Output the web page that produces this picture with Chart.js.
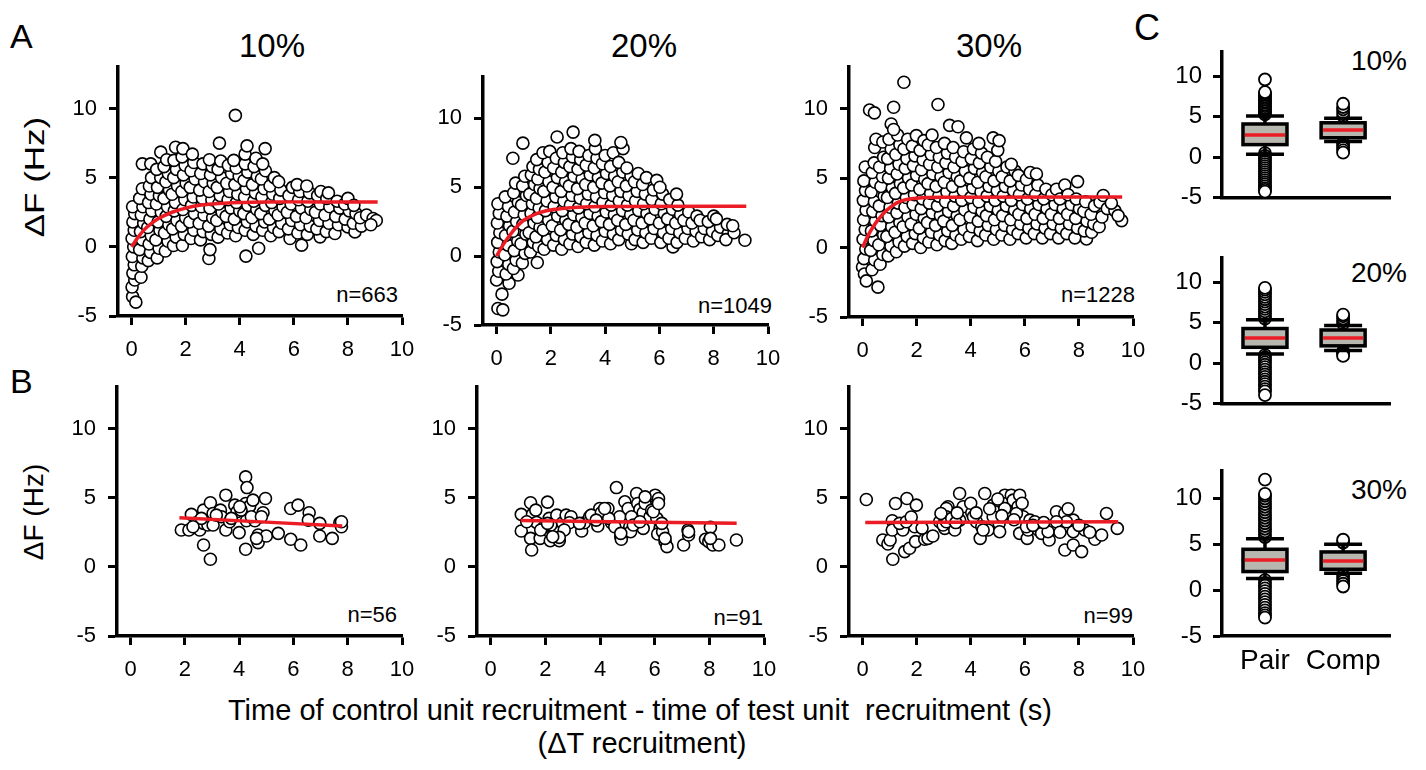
<!DOCTYPE html>
<html>
<head>
<meta charset="utf-8">
<title>Recruitment timing and ΔF</title>
<script src="https://cdn.jsdelivr.net/npm/chart.js@4.4.0/dist/chart.umd.min.js"></script>
<style>
  body { margin: 0; width: 1426px; height: 770px; position: relative; overflow: hidden; background: #fff;
         font-family: 'Liberation Sans', Arial, sans-serif; color: #000; }
  .lbl { position: absolute; line-height: 1; white-space: nowrap; }
  .ctr { transform: translateX(-50%); }
  .ylab { position: absolute; line-height: 1; white-space: nowrap; font-size: 28px; }
</style>
</head>
<body>
<div class="lbl" style="left:10px;top:19px;font-size:34px">A</div>
<div class="lbl" style="left:10px;top:364px;font-size:34px">B</div>
<div class="lbl" style="left:1134px;top:10px;font-size:36px">C</div>

<div class="lbl ctr" style="left:272px;top:29px;font-size:33px">10%</div>
<div class="lbl ctr" style="left:644px;top:29px;font-size:33px">20%</div>
<div class="lbl ctr" style="left:989px;top:29px;font-size:33px">30%</div>

<div class="ylab" style="left:35px;top:177px;transform:translate(-50%,-50%) rotate(-90deg) scaleX(1.25)">ΔF (Hz)</div>
<div class="ylab" style="left:34px;top:512px;transform:translate(-50%,-50%) rotate(-90deg)">ΔF (Hz)</div>

<div class="lbl" style="right:1028px;top:284px;font-size:22px">n=663</div>
<div class="lbl" style="right:654px;top:295px;font-size:22px">n=1049</div>
<div class="lbl" style="right:291px;top:284px;font-size:22px">n=1228</div>
<div class="lbl" style="right:1029px;top:604px;font-size:22px">n=56</div>
<div class="lbl" style="right:663px;top:607px;font-size:22px">n=91</div>
<div class="lbl" style="right:293px;top:605px;font-size:22px">n=99</div>

<div class="lbl" style="right:19px;top:47px;font-size:28px">10%</div>
<div class="lbl" style="right:19px;top:259px;font-size:28px">20%</div>
<div class="lbl" style="right:19px;top:476px;font-size:28px">30%</div>

<div class="lbl ctr" style="left:640px;top:696px;font-size:29px">Time of control unit recruitment - time of test unit&nbsp; recruitment (s)</div>
<div class="lbl ctr" style="left:642px;top:729px;font-size:29px">(ΔT recruitment)</div>

<script>
// axis ticks
const xTicks = [0, 2, 4, 6, 8, 10];
const yTicks = [-5, 0, 5, 10];
const groups = ['Pair', 'Comp'];

// A: all pairs, [ΔT, ΔF]
const pairs10 = [
  [0.04,-3.6],[0.16,-4.0],[0.02,-2.9],[0.12,-2.4],[0.05,-1.9],[0.1,-1.3],[0.03,-0.7],[0.08,0.0],[0.02,0.6],[0.1,1.2],[0.05,1.8],[0.12,2.4],[0.04,2.9],
  [0.35,-2.2],[0.38,-1.4],[0.42,-0.8],[0.3,-0.2],[0.4,0.5],[0.33,1.1],[0.45,1.7],[0.36,2.3],[0.42,2.9],[0.3,3.5],[0.4,4.2],[0.4,6.0],
  [0.62,-1.0],[0.7,-0.4],[0.65,0.2],[0.73,0.8],[0.6,1.4],[0.68,2.0],[0.75,2.6],[0.63,3.2],[0.72,3.8],[0.66,4.4],[0.74,5.0],[0.71,6.0],
  [0.95,-0.8],[1.02,-0.1],[0.9,0.5],[1.05,1.2],[0.98,1.8],[1.1,2.5],[0.92,3.1],[1.03,3.7],[0.96,4.3],[1.08,5.0],[0.93,5.6],[1.08,6.85],
  [1.25,-0.3],[1.35,0.4],[1.22,1.0],[1.38,1.6],[1.28,2.2],[1.33,2.9],[1.2,3.5],[1.4,4.1],[1.27,4.7],[1.36,5.3],[1.2,5.8],[1.3,6.3],
  [1.55,0.1],[1.65,0.7],[1.52,1.3],[1.68,1.9],[1.58,2.6],[1.62,3.2],[1.5,3.8],[1.7,4.4],[1.56,5.0],[1.66,5.6],[1.57,6.25],[1.63,7.2],
  [1.88,0.1],[1.95,0.9],[1.85,1.5],[2.0,2.1],[1.9,2.7],[1.97,3.4],[1.86,4.0],[2.02,4.6],[1.92,5.2],[1.98,5.9],[1.87,6.5],[1.9,7.1],
  [2.2,0.6],[2.3,1.2],[2.15,1.8],[2.33,2.4],[2.22,3.0],[2.28,3.6],[2.17,4.3],[2.35,4.9],[2.2,5.5],[2.3,6.1],[2.25,6.7],
  [2.55,0.5],[2.65,1.1],[2.5,1.7],[2.68,2.3],[2.58,2.9],[2.62,3.5],[2.52,4.1],[2.7,4.7],[2.56,5.3],[2.64,6.0],
  [2.86,-0.84],[2.9,-0.2],[2.95,0.9],[2.85,1.5],[3.0,2.1],[2.9,2.8],[2.97,3.4],[2.87,4.0],[3.02,4.6],[2.92,5.2],[2.98,5.8],[2.88,6.3],
  [3.2,0.7],[3.3,1.3],[3.15,1.9],[3.35,2.5],[3.22,3.1],[3.28,3.7],[3.17,4.3],[3.33,5.0],[3.2,5.6],[3.3,6.2],[3.25,7.5],
  [3.55,1.0],[3.65,1.6],[3.5,2.2],[3.68,2.8],[3.57,3.4],[3.62,4.0],[3.52,4.6],[3.7,5.3],[3.58,5.9],
  [3.85,0.8],[3.95,1.4],[3.8,2.0],[4.0,2.6],[3.88,3.2],[3.93,3.8],[3.82,4.5],[3.98,5.1],[3.87,5.7],[3.78,6.25],[3.84,9.5],
  [4.23,-0.67],[4.2,1.2],[4.28,1.8],[4.15,2.4],[4.3,3.0],[4.18,3.6],[4.25,4.2],[4.16,4.8],[4.3,5.4],[4.2,6.0],[4.2,6.7],[4.27,7.3],
  [4.5,0.9],[4.6,1.5],[4.45,2.1],[4.63,2.7],[4.52,3.3],[4.58,3.9],[4.47,4.5],[4.65,5.1],[4.53,5.8],[4.6,6.4],
  [4.7,-0.1],[4.85,1.2],[4.92,1.8],[4.78,2.4],[4.95,3.0],[4.82,3.6],[4.9,4.2],[4.8,4.9],[4.95,5.5],[4.85,6.0],[4.94,7.1],
  [5.15,0.8],[5.25,1.4],[5.1,2.0],[5.3,2.6],[5.18,3.2],[5.22,3.8],[5.12,4.4],[5.28,5.0],
  [5.45,1.1],[5.55,1.7],[5.42,2.3],[5.6,2.9],[5.48,3.5],[5.52,4.1],[5.44,4.7],
  [5.86,0.6],[5.8,1.3],[5.92,1.9],[5.76,2.5],[5.9,3.1],[5.82,3.7],[5.95,4.3],
  [6.29,0.12],[6.15,1.0],[6.25,1.6],[6.1,2.2],[6.28,2.8],[6.18,3.4],[6.22,4.0],[6.12,4.5],
  [6.5,0.9],[6.6,1.5],[6.45,2.1],[6.63,2.7],[6.52,3.3],[6.58,3.9],[6.48,4.4],
  [6.97,0.72],[6.85,1.3],[6.95,1.9],[6.8,2.5],[6.98,3.1],[6.88,3.7],[7.0,4.0],
  [7.2,1.1],[7.3,1.7],[7.15,2.3],[7.33,2.9],[7.22,3.5],[7.28,3.9],
  [7.52,0.96],[7.65,1.6],[7.55,2.2],[7.7,2.8],[7.6,3.3],
  [8.0,1.44],[7.9,2.0],[8.05,2.6],[7.88,3.1],[8.0,3.5],
  [8.26,1.08],[8.2,1.7],[8.3,2.4],[8.22,3.0],
  [8.5,1.5],[8.45,2.1],[8.69,2.3],
  [8.93,2.05],[9.05,1.9],[8.85,1.6]
];
const pairs20 = [
  [0.05,-3.8],[0.23,-3.9],[0.2,-2.76],[0.0,-1.73],[0.08,-1.1],[0.02,-0.4],[0.1,0.3],[0.04,1.0],[0.12,1.7],[0.03,2.4],[0.1,3.1],[0.05,3.8],
  [0.46,-1.97],[0.35,-1.3],[0.45,-0.6],[0.3,0.1],[0.42,0.8],[0.33,1.5],[0.48,2.2],[0.38,2.9],[0.44,3.6],[0.32,4.3],
  [0.79,-1.37],[0.62,-0.9],[0.72,-0.3],[0.65,0.4],[0.78,1.1],[0.6,1.8],[0.74,2.5],[0.66,3.2],[0.8,3.9],[0.63,4.6],[0.7,5.3],[0.6,7.1],
  [0.95,-0.5],[1.05,0.2],[0.9,0.9],[1.08,1.6],[0.97,2.3],[1.02,3.0],[0.92,3.7],[1.1,4.4],[0.96,5.1],[1.04,5.8],[0.97,8.2],
  [1.25,0.3],[1.35,1.0],[1.2,1.7],[1.38,2.4],[1.27,3.1],[1.32,3.8],[1.22,4.5],[1.4,5.2],[1.28,5.9],[1.34,6.5],
  [1.5,-0.46],[1.55,0.7],[1.45,1.4],[1.6,2.1],[1.5,2.8],[1.57,3.5],[1.47,4.2],[1.6,4.9],[1.52,5.6],[1.58,6.3],[1.48,7.0],
  [1.75,0.5],[1.88,1.2],[1.72,1.9],[1.92,2.6],[1.8,3.3],[1.86,4.0],[1.74,4.7],[1.93,5.4],[1.78,6.1],[1.9,6.8],[1.71,7.5],[1.96,7.6],
  [2.1,0.8],[2.2,1.5],[2.05,2.2],[2.25,2.9],[2.12,3.6],[2.18,4.3],[2.08,5.0],[2.24,5.7],[2.1,6.4],[2.2,7.1],[2.23,8.65],
  [2.4,0.5],[2.5,1.2],[2.36,1.9],[2.55,2.6],[2.42,3.3],[2.48,4.0],[2.38,4.7],[2.54,5.4],[2.4,6.1],[2.5,6.8],[2.44,7.5],
  [2.7,0.9],[2.8,1.6],[2.66,2.3],[2.84,3.0],[2.72,3.7],[2.78,4.4],[2.68,5.1],[2.85,5.8],[2.7,6.5],[2.8,7.2],[2.74,7.8],[2.82,9.0],
  [3.0,0.7],[3.1,1.4],[2.96,2.1],[3.14,2.8],[3.02,3.5],[3.08,4.2],[2.98,4.9],[3.15,5.6],[3.0,6.3],[3.1,7.0],[3.04,7.6],
  [3.3,1.0],[3.4,1.7],[3.26,2.4],[3.44,3.1],[3.32,3.8],[3.38,4.5],[3.28,5.2],[3.45,5.9],[3.3,6.6],[3.4,7.3],
  [3.6,0.8],[3.7,1.5],[3.56,2.2],[3.74,2.9],[3.62,3.6],[3.68,4.3],[3.58,5.0],[3.75,5.7],[3.6,6.4],[3.7,7.1],[3.64,7.8],[3.62,8.4],
  [3.9,1.1],[4.0,1.8],[3.86,2.5],[4.04,3.2],[3.92,3.9],[3.98,4.6],[3.88,5.3],[4.05,6.0],[3.9,6.7],[4.0,7.3],
  [4.2,0.9],[4.3,1.6],[4.16,2.3],[4.34,3.0],[4.22,3.7],[4.28,4.4],[4.18,5.1],[4.35,5.8],[4.2,6.5],[4.3,7.5],
  [4.5,1.2],[4.6,1.9],[4.46,2.6],[4.64,3.3],[4.52,4.0],[4.58,4.7],[4.48,5.4],[4.65,6.1],[4.5,6.8],[4.66,7.8],[4.58,8.25],
  [4.97,0.9],[4.85,1.6],[4.76,2.3],[4.94,3.0],[4.82,3.7],[4.88,4.4],[4.78,5.1],[4.95,5.8],[4.8,6.4],
  [5.1,1.2],[5.2,1.9],[5.06,2.6],[5.24,3.3],[5.12,4.0],[5.18,4.7],[5.08,5.4],[5.22,6.0],
  [5.4,1.0],[5.5,1.7],[5.36,2.4],[5.54,3.1],[5.42,3.8],[5.48,4.5],[5.38,5.2],[5.52,5.7],
  [5.7,1.3],[5.8,2.0],[5.66,2.7],[5.84,3.4],[5.72,4.1],[5.78,4.8],[5.9,5.5],
  [6.05,1.0],[6.15,1.7],[6.0,2.4],[6.18,3.1],[6.07,3.8],[6.12,4.5],[6.02,5.0],
  [6.5,0.67],[6.35,1.3],[6.45,2.0],[6.3,2.7],[6.48,3.4],[6.38,4.1],
  [6.65,1.0],[6.75,1.7],[6.6,2.4],[6.78,3.0],[6.68,3.7],[6.63,4.5],
  [6.95,1.3],[7.05,2.0],[6.9,2.6],[7.08,3.2],
  [7.25,1.1],[7.35,1.8],[7.2,2.4],[7.38,2.9],
  [7.55,1.4],[7.65,2.0],[7.5,2.6],
  [7.85,1.2],[7.95,1.8],[7.8,2.5],[8.0,2.9],
  [8.15,1.5],[8.25,2.1],[8.1,2.7],
  [8.54,1.63],[8.45,1.2],[8.5,2.3],
  [8.75,1.7],[8.7,2.2],
  [9.15,1.15]
];
const pairs30 = [
  [0.0,-1.4],[0.07,-1.9],[0.14,-2.4],[0.05,-0.8],[0.12,-0.1],[0.02,0.6],[0.1,1.3],[0.04,2.0],[0.13,2.7],[0.03,3.4],[0.11,4.1],[0.05,4.8],[0.1,5.8],
  [0.57,-2.85],[0.35,-1.6],[0.45,-0.9],[0.3,-0.2],[0.42,0.5],[0.33,1.2],[0.48,1.9],[0.38,2.6],[0.44,3.3],[0.32,4.0],[0.47,4.7],[0.36,5.4],[0.43,6.1],[0.45,7.2],[0.5,7.8],
  [0.65,-1.2],[0.75,-0.5],[0.6,0.2],[0.78,0.9],[0.66,1.6],[0.72,2.3],[0.62,3.0],[0.8,3.7],[0.68,4.4],[0.74,5.1],[0.63,5.8],[0.78,6.5],[0.75,7.6],
  [0.95,-0.6],[1.05,0.1],[0.9,0.8],[1.08,1.5],[0.97,2.2],[1.02,2.9],[0.92,3.6],[1.1,4.3],[0.96,5.0],[1.04,5.7],[0.93,6.4],[1.06,7.1],[0.98,7.8],
  [1.25,-0.3],[1.35,0.4],[1.2,1.1],[1.38,1.8],[1.27,2.5],[1.32,3.2],[1.22,3.9],[1.4,4.6],[1.28,5.3],[1.35,6.0],[1.23,6.7],[1.38,7.4],[1.3,8.1],
  [1.55,0.1],[1.65,0.8],[1.5,1.5],[1.68,2.2],[1.57,2.9],[1.62,3.6],[1.52,4.3],[1.7,5.0],[1.58,5.7],[1.64,6.4],[1.53,7.1],[1.67,7.8],
  [1.85,0.3],[1.95,1.0],[1.8,1.7],[1.98,2.4],[1.87,3.1],[1.92,3.8],[1.82,4.5],[2.0,5.2],[1.88,5.9],[1.94,6.6],[1.84,7.3],[1.99,8.06],
  [2.15,0.0],[2.25,0.7],[2.1,1.4],[2.28,2.1],[2.17,2.8],[2.22,3.5],[2.12,4.2],[2.3,4.9],[2.18,5.6],[2.24,6.3],[2.13,7.0],[2.27,7.7],
  [2.45,0.4],[2.55,1.1],[2.4,1.8],[2.58,2.5],[2.47,3.2],[2.52,3.9],[2.42,4.6],[2.6,5.3],[2.48,6.0],[2.54,6.7],[2.43,7.4],[2.57,8.1],
  [2.75,0.2],[2.85,0.9],[2.7,1.6],[2.88,2.3],[2.77,3.0],[2.82,3.7],[2.72,4.4],[2.9,5.1],[2.78,5.8],[2.84,6.5],[2.73,7.2],[2.79,10.3],
  [3.05,0.5],[3.15,1.2],[3.0,1.9],[3.18,2.6],[3.07,3.3],[3.12,4.0],[3.02,4.7],[3.2,5.4],[3.08,6.1],[3.14,6.8],[3.03,7.5],[3.22,8.8],
  [3.3,0.3],[3.45,0.9],[3.32,1.6],[3.5,2.3],[3.37,3.0],[3.42,3.7],[3.33,4.4],[3.5,5.1],[3.38,5.8],[3.44,6.5],[3.35,7.2],[3.53,8.7],
  [3.65,0.6],[3.75,1.3],[3.6,2.0],[3.78,2.7],[3.67,3.4],[3.72,4.1],[3.62,4.8],[3.8,5.5],[3.68,6.2],[3.74,6.9],[3.84,7.9],
  [3.95,0.8],[4.05,1.5],[3.98,2.2],[4.12,2.9],[4.0,3.6],[4.08,4.3],[3.96,5.0],[4.14,5.7],[4.02,6.4],[4.1,7.1],
  [4.25,0.5],[4.35,1.2],[4.28,1.9],[4.42,2.6],[4.3,3.3],[4.38,4.0],[4.26,4.7],[4.44,5.4],[4.32,6.1],[4.4,6.8],[4.3,7.5],
  [4.55,0.9],[4.65,1.6],[4.58,2.3],[4.72,3.0],[4.6,3.7],[4.68,4.4],[4.56,5.1],[4.74,5.8],[4.62,6.5],
  [4.85,0.6],[4.95,1.3],[4.88,2.0],[5.02,2.7],[4.9,3.4],[4.98,4.1],[4.86,4.8],[5.04,5.5],[4.92,6.2],[5.0,7.0],[4.83,7.9],[5.05,7.7],
  [5.15,0.9],[5.25,1.6],[5.18,2.3],[5.32,3.0],[5.2,3.7],[5.28,4.4],[5.16,5.1],[5.34,5.8],
  [5.45,0.6],[5.55,1.3],[5.48,2.0],[5.62,2.7],[5.5,3.4],[5.58,4.1],[5.46,4.8],[5.64,5.5],[5.5,6.0],
  [5.75,1.0],[5.85,1.7],[5.78,2.4],[5.92,3.1],[5.8,3.8],[5.88,4.5],[5.76,5.2],
  [6.05,0.7],[6.15,1.4],[6.08,2.1],[6.22,2.8],[6.1,3.5],[6.18,4.2],[6.06,4.9],[6.2,5.4],
  [6.35,1.0],[6.45,1.7],[6.38,2.4],[6.52,3.1],[6.4,3.8],[6.48,4.5],[6.43,5.3],
  [6.65,0.7],[6.75,1.4],[6.68,2.1],[6.82,2.8],[6.7,3.5],[6.78,4.2],
  [6.95,1.0],[7.05,1.7],[6.98,2.4],[7.12,3.1],[7.0,3.8],[7.17,4.2],
  [7.25,0.7],[7.35,1.4],[7.28,2.1],[7.42,2.8],[7.3,3.5],[7.48,4.5],
  [7.55,1.0],[7.65,1.7],[7.58,2.4],[7.72,3.1],[7.6,3.8],
  [7.85,0.7],[7.95,1.4],[7.88,2.1],[8.02,2.8],[7.9,3.5],[7.95,4.75],
  [8.28,0.62],[8.2,1.2],[8.3,1.9],[8.18,2.6],[8.25,3.3],
  [8.47,1.1],[8.55,1.7],[8.45,2.4],[8.58,3.0],
  [8.78,3.26],[8.9,3.75],[8.75,1.5],[8.85,2.2],
  [9.05,2.8],[9.33,2.66],[9.58,1.94],[9.2,3.2],[9.45,2.3],
  [1.53,11.9],[1.15,10.1],[0.26,9.9],[0.44,9.7],[1.06,8.9],[1.15,8.5]
];

// B: complementary pairs
const comp10 = [
  [1.87,2.66],[2.15,2.66],[2.24,3.79],[2.42,3.19],[2.55,2.66],[2.69,4.1],[2.69,3.14],[2.69,1.58],[2.85,3.02],[2.94,4.63],
  [2.94,0.55],[3.04,3.86],[3.04,3.02],[3.31,4.1],[3.35,3.62],[3.51,5.18],[3.51,2.66],[3.65,3.26],[3.84,4.46],[3.92,3.98],
  [4.0,2.47],[4.24,6.5],[4.29,5.73],[4.24,4.58],[4.27,3.33],[4.24,1.27],[4.39,4.39],[4.51,4.82],[4.58,3.33],[4.7,2.3],
  [4.7,1.75],[4.88,3.91],[4.97,4.94],[5.0,2.23],[5.44,2.42],[5.9,4.22],[5.9,1.99],[6.17,4.46],[6.27,1.58],[6.58,3.91],
  [6.55,3.38],[6.97,3.14],[6.97,2.23],[7.43,2.06],[7.71,3.19],[7.77,2.9],[3.16,3.74],[3.71,3.5],[4.07,4.1],[4.64,2.06],
  [4.45,3.62],[2.61,3.5],[2.3,2.9],[4.02,4.34],[4.82,3.62],[7.77,3.26]
];
const comp20 = [
  [1.12,3.79],[1.12,2.59],[1.46,4.63],[1.53,3.79],[1.46,2.06],[1.5,1.22],[1.68,3.21],[1.81,2.06],[2.08,4.68],[2.14,3.5],
  [2.12,2.59],[2.18,1.89],[2.32,3.14],[2.42,3.74],[2.35,2.54],[2.51,1.89],[2.63,3.19],[2.76,3.74],[2.94,3.62],[2.88,3.19],
  [3.33,2.59],[3.43,3.19],[3.62,3.62],[3.74,3.57],[3.92,2.95],[3.99,4.22],[4.15,3.91],[4.29,4.22],[4.42,3.19],[4.6,5.73],
  [4.72,3.62],[4.76,2.18],[4.78,1.99],[4.91,4.7],[5.03,4.22],[5.09,2.9],[5.12,2.54],[5.34,5.3],[5.38,4.58],[5.46,4.15],
  [5.58,2.78],[5.58,3.91],[5.74,4.7],[5.83,3.62],[6.02,5.18],[6.0,4.34],[6.08,3.5],[6.14,4.94],[6.2,2.78],[6.11,2.37],
  [6.29,2.54],[6.38,1.82],[6.45,1.46],[7.06,1.58],[7.22,2.66],[7.24,2.3],[7.86,1.99],[8.04,2.85],[7.98,1.82],[8.13,1.58],
  [8.35,1.58],[8.99,1.94],[1.32,3.26],[1.96,2.9],[2.2,3.02],[3.25,3.14],[3.68,3.74],[4.05,3.91],[4.32,3.5],[5.15,3.62],
  [5.65,4.58],[5.89,4.1],[6.26,3.14],[2.69,2.66],[1.83,2.66],[1.65,4.1],[4.54,2.9],[5.22,3.02],[5.46,3.26],[5.95,3.98],
  [7.24,2.54],[2.51,2.13],[2.27,2.18],[3.86,3.38],[4.17,4.22],[4.76,2.42],[5.65,5.06],[6.38,2.06],[8.04,2.06],[6.14,4.58],
  [2.08,3.14]
];
const comp30 = [
  [0.14,4.87],[0.75,1.94],[0.94,1.65],[1.02,1.94],[1.12,0.55],[1.22,4.58],[1.1,3.33],[1.1,2.66],[1.49,2.66],[1.56,1.1],
  [1.64,4.94],[1.74,1.34],[1.93,2.9],[1.99,4.46],[1.96,1.82],[2.3,1.99],[2.42,2.06],[2.6,2.23],[2.85,3.26],[3.04,3.67],
  [3.04,2.78],[3.16,4.34],[1.37,3.14],[1.62,3.26],
  [3.1,4.22],[2.98,3.02],[3.1,3.26],[3.41,2.66],[3.59,5.3],[3.72,4.34],[4.04,3.91],[4.21,3.26],[4.41,2.9],[4.35,2.06],
  [4.52,5.3],[4.64,2.66],[4.83,4.46],[4.89,3.98],[5.05,3.14],[5.07,2.54],[5.26,5.18],[5.32,4.58],[5.44,3.86],[5.5,5.18],
  [5.57,4.82],[5.81,5.18],[5.75,4.34],[5.81,2.42],[5.94,3.62],[6.09,2.06],[6.12,2.66],[6.19,3.38],[6.5,2.66],[6.62,2.42],
  [6.9,1.94],[6.86,2.54],[7.17,3.98],[7.48,3.86],[7.42,2.9],[7.48,1.22],[7.79,3.38],[7.79,1.58],[7.79,2.54],[8.1,1.1],
  [8.22,2.66],[8.59,1.99],[8.84,2.3],[9.02,3.86],[9.42,2.78],[3.1,3.62],[2.9,3.86],[4.1,3.62],[4.83,3.62],[7.54,3.26],
  [5.26,4.22],[5.69,3.86],[4.46,2.66],[6.06,2.9],[3.59,3.38],[7.17,3.26],[6.37,3.26],
  [3.3,3.5],[3.45,3.2],[3.5,3.9],[4.0,4.6],[4.2,3.9],[4.7,4.2],[5.0,4.9],[5.15,3.7],[5.6,3.4],[5.9,4.6],
  [6.3,3.0],[6.7,3.2],[7.3,2.5],[7.6,4.2],[8.0,3.0],[8.4,2.5],[2.2,2.8],[1.8,3.6]
];

// fitted curves
const fitA10 = [[0,0],[0.25,0.72],[0.5,1.3],[0.75,1.72],[1,2.05],[1.5,2.5],[2,2.8],[2.5,3.0],[3,3.1],[4,3.2],[5,3.24],[6,3.25],[9.1,3.25]];
const fitA20 = [[0,0],[0.25,0.85],[0.5,1.55],[0.75,2.15],[1,2.6],[1.5,3.1],[2,3.35],[2.5,3.48],[3,3.55],[4,3.6],[9.2,3.62]];
const fitA30 = [[0,0],[0.2,0.85],[0.4,1.52],[0.6,2.05],[0.8,2.5],[1,2.85],[1.25,3.2],[1.5,3.4],[2,3.55],[3,3.62],[9.6,3.64]];
const fitB10 = [[1.8,3.55],[7.8,2.95]];
const fitB20 = [[1.1,3.35],[9.0,3.15]];
const fitB30 = [[0.1,3.2],[9.45,3.26]];

// C: box stats [lower whisker, q1, median, q3, upper whisker]
const box10Pair = [0.35, 1.55, 2.75, 4.1, 5.1];
const box10Comp = [1.95, 2.4, 3.35, 4.25, 4.8];
const box20Pair = [1.12, 1.96, 3.12, 4.28, 5.36];
const box20Comp = [1.56, 2.14, 3.12, 4.1, 4.64];
const box30Pair = [1.27, 2.03, 3.3, 4.46, 5.6];
const box30Comp = [1.85, 2.28, 3.19, 4.17, 5.0];

const out10Pair = [5.3,5.5,5.7,5.9,6.1,6.3,6.5,6.7,6.9,7.1,7.3,7.5,7.7,7.9,8.05,9.6,
  0.5,0.15,-0.1,-0.35,-0.6,-0.85,-1.1,-1.35,-1.6,-1.85,-2.1,-2.35,-2.6,-2.85,-3.1,-3.35,-3.6,-3.85,-4.05,-4.25];
const out10Comp = [5.1,5.5,5.9,6.2,6.6, 1.75,1.45,1.15,0.85,0.55];
const out20Pair = [5.5,5.8,6.1,6.4,6.7,7.0,7.3,7.6,7.9,8.2,8.5,8.8,9.1,9.3,
  1.0,0.7,0.4,0.1,-0.2,-0.5,-0.8,-1.1,-1.4,-1.7,-2.0,-2.3,-2.6,-2.9,-3.2,-3.5,-3.95];
const out20Comp = [4.9,5.2,5.5,5.8,6.0, 1.5,1.3,1.1,0.9];
const out30Pair = [5.8,6.1,6.4,6.7,7.0,7.3,7.6,7.9,8.2,8.5,8.8,9.1,9.4,9.7,10.0,10.3,10.5,12.05,
  1.1,0.8,0.5,0.2,-0.1,-0.4,-0.7,-1.0,-1.3,-1.6,-1.9,-2.2,-2.5,-2.75,-3.0];
const out30Comp = [5.2,5.5, 1.6,1.3,1.0,0.7,0.4];

const FONT = "'Liberation Sans', Arial, sans-serif";
const RED = '#ec1c24';
const PT = 30, PR = 25;

function mount(area, yw, xh) {
  const c = document.createElement('canvas');
  const w = area.r - area.l + yw + PR;
  const h = area.b - area.t + PT + xh;
  c.width = w;
  c.height = h;
  c.style.cssText = `position:absolute;left:${area.l - yw}px;top:${area.t - PT}px;width:${w}px;height:${h}px`;
  document.body.appendChild(c);
  return c;
}

function linearAxis(axis, min, max, ticks, size, fitSize, pad) {
  return {
    type: 'linear', min, max,
    afterBuildTicks: s => { s.ticks = ticks.map(value => ({ value })); },
    afterFit: s => { if (axis === 'x') s.height = fitSize; else s.width = fitSize; },
    border: { display: true, color: '#000', width: 3.5 },
    grid: { drawOnChartArea: false, drawTicks: true, tickLength: 9, tickWidth: 3, tickColor: '#000' },
    ticks: { color: '#000', font: { family: FONT, size }, padding: pad, autoSkip: false, maxRotation: 0 }
  };
}

const baseOptions = {
  responsive: false, animation: false, events: [],
  layout: { padding: { top: PT, right: PR, left: 0, bottom: 0 } },
  plugins: { legend: { display: false }, tooltip: { enabled: false } }
};

function scatterPanel(area, pts, fit, radius, xmin) {
  new Chart(mount(area, 60, 45), {
    type: 'scatter',
    data: {
      datasets: [
        { type: 'line', data: fit.map(([x, y]) => ({ x, y })), borderColor: RED, borderWidth: 3.5,
          pointRadius: 0, cubicInterpolationMode: 'monotone', fill: false, clip: false },
        { data: pts.map(([x, y]) => ({ x, y })), pointRadius: radius, pointBorderWidth: 1.6,
          pointBackgroundColor: '#fff', pointBorderColor: '#000', clip: false }
      ]
    },
    options: {
      ...baseOptions,
      scales: {
        x: linearAxis('x', xmin, 10, xTicks, 22, 45, 12),
        y: linearAxis('y', -5, 13, yTicks, 22, 60, 12)
      }
    }
  });
}

// whiskers, box and median for each group, drawn over the outliers
const boxPlot = {
  id: 'boxPlot',
  afterDatasetsDraw(chart, args, opts) {
    const { ctx, scales: { x, y } } = chart;
    const half = 22, cap = 19;
    opts.boxes.forEach((b, i) => {
      const cx = x.getPixelForValue(i + 1);
      const [lo, q1, med, q3, hi] = b.map(v => y.getPixelForValue(v));
      ctx.save();
      ctx.strokeStyle = '#000';
      ctx.lineWidth = 3.5;
      ctx.beginPath();
      ctx.moveTo(cx, hi); ctx.lineTo(cx, lo);
      ctx.moveTo(cx - cap, hi); ctx.lineTo(cx + cap, hi);
      ctx.moveTo(cx - cap, lo); ctx.lineTo(cx + cap, lo);
      ctx.stroke();
      ctx.fillStyle = '#b8b7af';
      ctx.fillRect(cx - half, q3, half * 2, q1 - q3);
      ctx.strokeRect(cx - half, q3, half * 2, q1 - q3);
      ctx.strokeStyle = RED;
      ctx.beginPath();
      ctx.moveTo(cx - half + 2, med); ctx.lineTo(cx + half - 2, med);
      ctx.stroke();
      ctx.restore();
    });
  }
};

function boxPanel(area, boxes, outliers, showLabels) {
  const xh = showLabels ? 45 : 6;
  new Chart(mount(area, 60, xh), {
    type: 'scatter',
    data: {
      datasets: outliers.map((vals, i) => ({
        data: vals.map(v => ({ x: i + 1, y: v })), pointRadius: 6, pointBorderWidth: 1.8,
        pointBackgroundColor: '#fff', pointBorderColor: '#000', clip: false
      }))
    },
    options: {
      ...baseOptions,
      plugins: { ...baseOptions.plugins, boxPlot: { boxes } },
      scales: {
        x: {
          type: 'linear', min: 0.45, max: 2.6,
          afterBuildTicks: s => { s.ticks = [{ value: 1 }, { value: 2 }]; },
          afterFit: s => { s.height = xh; },
          border: { display: true, color: '#000', width: 3.5 },
          grid: { drawOnChartArea: false, drawTicks: false },
          ticks: { display: showLabels, color: '#000', font: { family: FONT, size: 28 }, padding: 8,
                   callback: v => groups[v - 1] }
        },
        y: linearAxis('y', -5, 13, yTicks, 24, 60, 11)
      }
    },
    plugins: [boxPlot]
  });
}

scatterPanel({ l: 118, t: 67, r: 402, b: 316 }, pairs10, fitA10, 6, -0.5);
scatterPanel({ l: 483, t: 77, r: 768, b: 325 }, pairs20, fitA20, 6, -0.5);
scatterPanel({ l: 849, t: 67, r: 1133, b: 317 }, pairs30, fitA30, 6, -0.5);
scatterPanel({ l: 117, t: 387, r: 402, b: 636 }, comp10, fitB10, 6, -0.5);
scatterPanel({ l: 477, t: 387, r: 764, b: 636 }, comp20, fitB20, 6, -0.5);
scatterPanel({ l: 849, t: 387, r: 1133, b: 636 }, comp30, fitB30, 6, -0.5);

boxPanel({ l: 1222, t: 52, r: 1390, b: 217 }, [box10Pair, box10Comp], [out10Pair, out10Comp], false);
boxPanel({ l: 1222, t: 258, r: 1390, b: 423 }, [box20Pair, box20Comp], [out20Pair, out20Comp], false);
boxPanel({ l: 1222, t: 471, r: 1390, b: 636 }, [box30Pair, box30Comp], [out30Pair, out30Comp], true);
</script>
</body>
</html>
